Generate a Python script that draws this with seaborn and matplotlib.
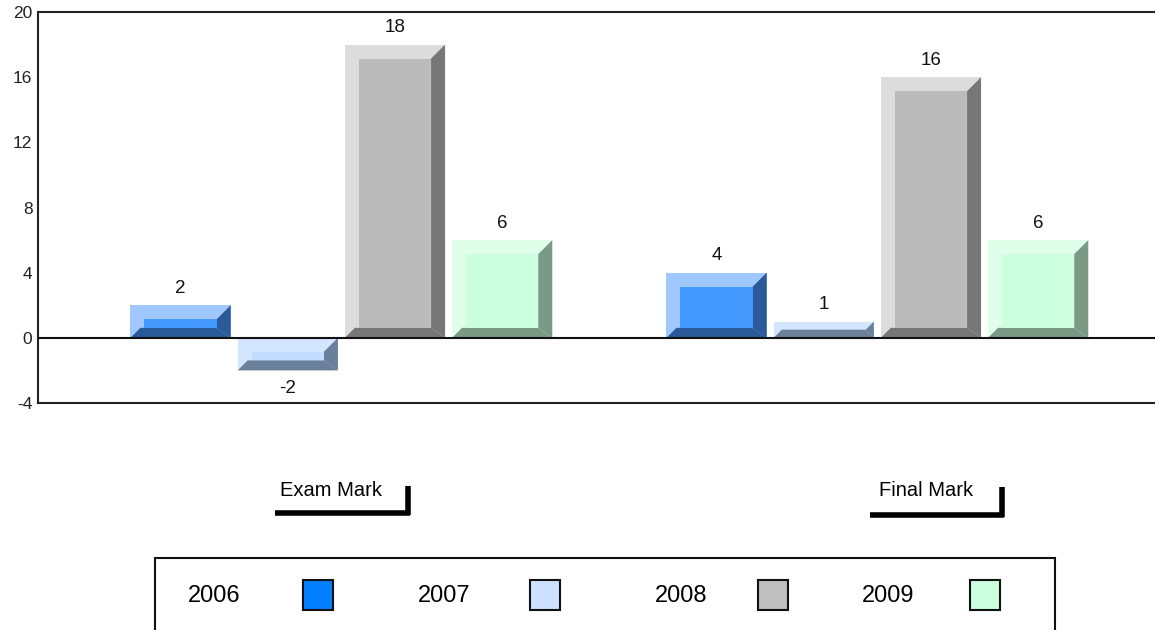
import pandas as pd
import matplotlib.pyplot as plt
import seaborn as sns
from matplotlib.patches import Polygon, Rectangle
from matplotlib.lines import Line2D

# data
categorias = ["Exam Mark", "Final Mark"]
anos = ["2006", "2007", "2008", "2009"]
valores = {
    "2006": [2, 4],
    "2007": [-2, 1],
    "2008": [18, 16],
    "2009": [6, 6],
}
yticks = [-4, 0, 4, 8, 12, 16, 20]

# cores: legenda / face / claro / escuro
cor_legenda = ["#0080FF", "#CCE0FF", "#C0C0C0", "#CCFFDD"]
cor_face = ["#4499FF", "#C4DCFF", "#BBBBBB", "#CCFFDD"]
cor_clara = ["#A0C8FF", "#D4E6FF", "#DCDCDC", "#E0FFEA"]
cor_escura = ["#2A5A9A", "#6A7F9A", "#777777", "#7A9A85"]

linhas = []
for ano in anos:
    for cat, v in zip(categorias, valores[ano]):
        linhas.append({"Categoria": cat, "Ano": ano, "Valor": v})
df = pd.DataFrame(linhas)

sns.set_style("white")
plt.rcParams['font.family'] = ['Liberation Sans', 'DejaVu Sans']

fig = plt.figure(figsize=(11.55, 6.3), dpi=100)
ax = fig.add_axes([38 / 1155, 1 - 403 / 630, 1 - 38 / 1155, (403 - 12) / 630])

sns.barplot(data=df, x="Categoria", y="Valor", hue="Ano", palette=cor_clara,
            width=0.8, gap=0.065, legend=False, linewidth=0, saturation=1, ax=ax)

ax.set_xlim(-0.566, 1.518)
ax.set_ylim(-4, 20)
ax.set_yticks(yticks)
ax.set_yticklabels([str(t) for t in yticks], fontsize=12.5, color="#222222")
ax.tick_params(axis="y", length=0, pad=4)
ax.set_xticks([])
ax.set_xlabel("")
ax.set_ylabel("")
for lado in ["left", "top", "bottom"]:
    ax.spines[lado].set_color("#222222")
    ax.spines[lado].set_linewidth(1.5)
ax.spines["right"].set_visible(False)
ax.axhline(0, color="#111111", lw=1.5, zorder=5)

# efeito chanfrado nas barras
px_x = (1.518 + 0.566) / 1117
px_y = 24 / 391
chanfro = 14
chanfro_base = 10
for i, cont in enumerate(ax.containers):
    for bar in cont:
        x0 = bar.get_x()
        w = bar.get_width()
        y = bar.get_y()
        h = bar.get_height()
        yb, yt = min(y, y + h), max(y, y + h)
        x1 = x0 + w
        alt_px = abs(h) / px_y
        b_px = min(chanfro, alt_px / 2)
        bb_px = min(chanfro_base, alt_px / 2)
        bx, by = b_px * px_x, b_px * px_y
        bbx, bby = bb_px * px_x, bb_px * px_y
        ax.add_patch(Polygon([(x1, yt), (x1, yb), (x1 - bx, yb + bby), (x1 - bx, yt - by)],
                             closed=True, facecolor=cor_escura[i], lw=0, zorder=3))
        ax.add_patch(Polygon([(x0, yb), (x1, yb), (x1 - bx, yb + bby), (x0 + bbx, yb + bby)],
                             closed=True, facecolor=cor_escura[i], lw=0, zorder=3))
        if yt - by > yb + bby:
            ax.add_patch(Rectangle((x0 + bx, yb + bby), w - 2 * bx, (yt - by) - (yb + bby),
                                   facecolor=cor_face[i], lw=0, zorder=3))
        v = y + h
        if v >= 0:
            ax.annotate(f"{v:g}", (x0 + w / 2, yt), xytext=(0, 6), textcoords="offset points",
                        ha="center", va="bottom", fontsize=13.5, color="#111111")
        else:
            ax.annotate(f"{v:g}", (x0 + w / 2, yb), xytext=(0, -7), textcoords="offset points",
                        ha="center", va="top", fontsize=13.5, color="#111111")

# rótulos das categorias com colchete
W, H = 1155, 630
colchetes = [(275, 410, 513, 486, 280), (870, 1004, 515, 487, 879)]
for cat, (xa, xb, yh, yv, xt) in zip(categorias, colchetes):
    fig.add_artist(Line2D([xa / W, xb / W], [1 - yh / H, 1 - yh / H], color="black", lw=4,
                          solid_capstyle="butt"))
    fig.add_artist(Line2D([(xb - 2.5) / W, (xb - 2.5) / W], [1 - (yh + 2) / H, 1 - yv / H],
                          color="black", lw=4, solid_capstyle="butt"))
    fig.text(xt / W, 1 - 491 / H, cat, fontsize=14.5, ha="left", va="center", color="black")

# legenda manual
fig.add_artist(Rectangle((155 / W, -0.05), 900 / W, 0.05 + 1 - 558 / H, transform=fig.transFigure,
                         facecolor="white", edgecolor="#111111", lw=1.5))
pos_texto = [188, 418, 655, 862]
pos_quadrado = [303, 530, 758, 970]
for ano, cor, xt, xq in zip(anos, cor_legenda, pos_texto, pos_quadrado):
    fig.text(xt / W, 1 - 596 / H, ano, fontsize=17, ha="left", va="center", color="black")
    fig.add_artist(Rectangle((xq / W, 1 - 610 / H), 30 / W, 30 / H, transform=fig.transFigure,
                             facecolor=cor, edgecolor="#111111", lw=1.5))

fig.savefig("out.png", dpi=100)
